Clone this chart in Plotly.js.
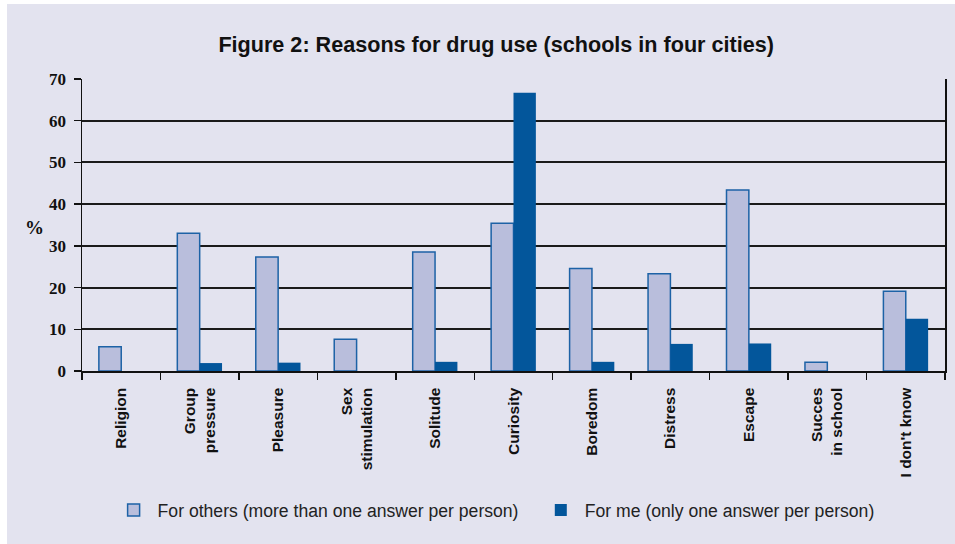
<!DOCTYPE html>
<html>
<head>
<meta charset="utf-8">
<script src="https://cdn.plot.ly/plotly-3.0.1.min.js"></script>
<style>
  html, body { margin: 0; padding: 0; background: #ffffff; }
  #chart { position: absolute; left: 7px; top: 4px; width: 948px; height: 540px; }
</style>
</head>
<body>
<div id="chart"></div>
<script>
const categories = ["Religion", "Group<br>pressure", "Pleasure", "Sex<br>stimulation", "Solitude",
                    "Curiosity", "Boredom", "Distress", "Escape", "Succes<br>in school", "I don't know"];
const forOthers = [5.8, 33.0, 27.3, 7.6, 28.5, 35.4, 24.6, 23.3, 43.4, 2.1, 19.1];
const forMe = [0, 1.9, 2.0, 0, 2.2, 66.7, 2.2, 6.5, 6.6, 0, 12.5];
const seriesNames = ["For others (more than one answer per person)", "For me (only one answer per person)"];
const yTicks = [0, 10, 20, 30, 40, 50, 60, 70];

const bg = "#e3e3ef";
const sans = "'Liberation Sans', Arial, sans-serif";

const traces = [
  {
    type: "bar", name: seriesNames[0], x: categories, y: forOthers,
    marker: { color: "#b9bedc", line: { color: "#1d62a6", width: 1.5 } },
    legend: "legend",
    hoverinfo: "skip"
  },
  {
    type: "bar", name: seriesNames[1], x: categories, y: forMe,
    marker: { color: "#03569b", line: { color: "#03569b", width: 0 } },
    legend: "legend2",
    hoverinfo: "skip"
  }
];

const legendFont = { family: sans, size: 17.6, color: "#222" };

const layout = {
  width: 948, height: 540,
  paper_bgcolor: bg, plot_bgcolor: bg,
  margin: { l: 75, r: 10, t: 75, b: 173, autoexpand: false },
  barmode: "group", bargap: 0.43, bargroupgap: 0,
  showlegend: true,
  title: {
    text: "<b>Figure 2: Reasons for drug use (schools in four cities)</b>",
    font: { family: sans, size: 21.6, color: "#111" },
    x: 0.516, xanchor: "center", y: 0.925, yanchor: "middle"
  },
  xaxis: {
    type: "category",
    automargin: false,
    tickangle: -90,
    tickson: "boundaries",
    ticks: "outside", ticklen: 7, tickwidth: 1.5, tickcolor: "#111",
    showline: true, linecolor: "#111", linewidth: 1.5,
    showgrid: false,
    tickfont: { family: sans, size: 15.5, color: "#111", weight: "bold" },
    ticklabelstandoff: 9
  },
  yaxis: {
    range: [0, 70],
    automargin: false,
    tickvals: yTicks,
    ticks: "outside", ticklen: 7, tickwidth: 1.5, tickcolor: "#111",
    showline: true, linecolor: "#111", linewidth: 1.5, mirror: true,
    showgrid: true, gridcolor: "#1a1a1a", gridwidth: 2,
    zeroline: false,
    tickfont: { family: "'Liberation Serif', 'DejaVu Serif', serif", size: 17, color: "#111", weight: "bold" },
    ticklabelstandoff: 4
  },
  legend: {
    orientation: "h",
    x: 0.032, xanchor: "left",
    y: -0.476, yanchor: "middle",
    itemwidth: 38,
    bgcolor: "rgba(0,0,0,0)",
    font: legendFont
  },
  legend2: {
    orientation: "h",
    x: 0.527, xanchor: "left",
    y: -0.476, yanchor: "middle",
    itemwidth: 38,
    bgcolor: "rgba(0,0,0,0)",
    font: legendFont
  },
  annotations: [
    {
      text: "<b>%</b>", xref: "paper", yref: "paper",
      x: -0.055, y: 0.49, xanchor: "center", yanchor: "middle",
      showarrow: false,
      font: { family: "'Liberation Serif', serif", size: 19, color: "#111" }
    }
  ]
};

Plotly.newPlot("chart", traces, layout, { displayModeBar: false, staticPlot: true });
</script>
</body>
</html>
